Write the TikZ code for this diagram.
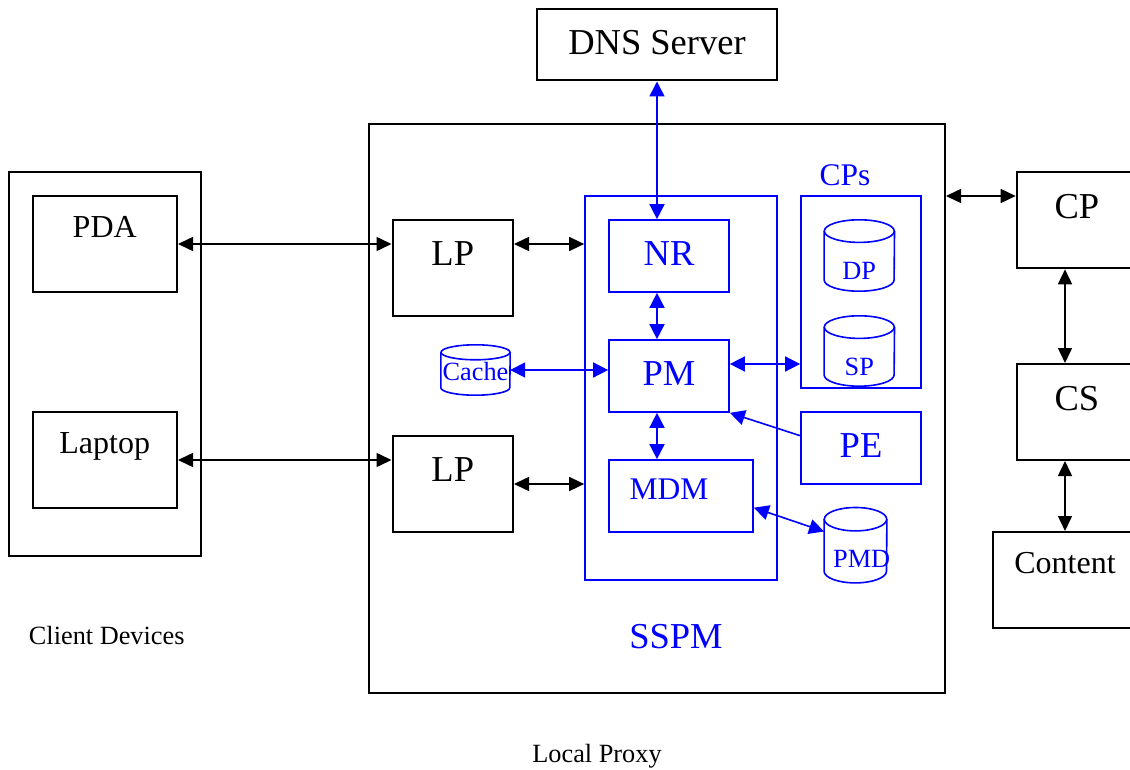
\documentclass[tikz,border=0pt]{standalone}
\usepackage{fontspec}
\setmainfont{Liberation Serif}
\usetikzlibrary{arrows.meta,calc}
\definecolor{sblue}{RGB}{0,0,255}
\newcommand\szL{\fontsize{36.5}{40}\selectfont}
\newcommand\szM{\fontsize{32}{36}\selectfont}
\newcommand\szMD{\fontsize{31.5}{36}\selectfont}
\newcommand\szS{\fontsize{26.3}{30}\selectfont}
% cylinder outline drawn round a named node: name, x radius, y radius
\newcommand\drawdrum[3]{%
  \draw[sblue, line width=1.6pt] ([yshift=-#3]#1.north west) -- ([yshift=#3]#1.south west)
    arc[start angle=180, end angle=360, x radius=#2, y radius=#3] -- ([yshift=-#3]#1.north east);
  \draw[sblue, line width=1.6pt] ([yshift=-#3]#1.north) ellipse [x radius=#2, y radius=#3];
}
\tikzset{
  blk/.style={draw=black, line width=2pt, inner sep=0pt},
  blu/.style={draw=sblue, line width=1.7pt, inner sep=0pt, text=sblue},
  drum/.style={draw=none, inner sep=0pt, text=sblue, font=\szS},
  barr/.style={draw=black, line width=1.5pt, <->, >={Triangle[length=15pt,width=14pt]}},
  uarr/.style={draw=sblue, line width=1.6pt, <->, >={Triangle[length=15pt,width=15pt]}},
  uone/.style={draw=sblue, line width=1.6pt, ->, >={Triangle[length=15pt,width=15pt]}},
  captxt/.style={anchor=base, inner sep=0pt},
}
\begin{document}
\begin{tikzpicture}[x=1pt, y=-1pt]
\useasboundingbox (0,0) rectangle (1130,770);
\clip (0,0) rectangle (1130,770);

% outer frames
\node[blk, minimum width=576.5pt, minimum height=568.5pt] (proxy) at (656.75,408.25) {};
\node[blk, minimum width=192.5pt, minimum height=383.5pt] (clients) at (104.75,364.25) {};
\node[blk, font=\szL, minimum width=240pt, text height=46pt, text depth=25.5pt] (dns) at (657,44.75) {DNS Server};

% client devices
\node[blk, font=\szM, minimum width=144.5pt, text height=41pt, text depth=55pt] (pda) at (104.75,244) {PDA};
\node[blk, font=\szM, minimum width=144.5pt, text height=41pt, text depth=55pt] (laptop) at (104.75,460) {Laptop};

% local proxy parts
\node[blk, font=\szL, minimum width=120.5pt, text height=45.7pt, text depth=50.3pt] (lp1) at (452.75,268) {LP};
\node[blk, font=\szL, minimum width=120.5pt, text height=45.7pt, text depth=50.3pt] (lp2) at (452.75,484) {LP};
\node[blu, minimum width=192pt, minimum height=384pt] (sspm) at (681,388) {};
\node[blu, font=\szL, minimum width=120pt, text height=45.7pt, text depth=26.3pt] (nr) at (669,256) {NR};
\node[blu, font=\szL, minimum width=120pt, text height=45pt, text depth=27pt] (pm) at (669,376) {PM};
\node[blu, minimum width=144pt, minimum height=72pt,
      label={[font=\szMD, text=sblue, anchor=base, inner sep=0pt, xshift=-12pt, yshift=-40.7pt]north:MDM}] (mdm) at (681,496) {};
\node[blu, minimum width=120pt, minimum height=192pt] (cps) at (861,292) {};
\node[blu, font=\szL, minimum width=120pt, text height=45.3pt, text depth=26.7pt] (pe) at (861,448) {PE};

% stores
\node[drum, minimum width=70pt, text height=59.3pt, text depth=11.7pt] (dp) at (859.3,255.5) {DP};
\node[drum, minimum width=70pt, text height=59pt, text depth=11pt] (sp) at (859.3,351) {SP};
\node[drum, minimum width=69pt, text height=35pt, text depth=15pt] (cache) at (475.5,370) {Cache};
\node[drum, minimum width=62.4pt, minimum height=75pt,
      label={[font=\szS, text=sblue, anchor=base, inner sep=0pt, xshift=6.2pt, yshift=-60pt]north:PMD}] (pmd) at (855.5,545.2) {};
\drawdrum{dp}{35pt}{11.3pt}
\drawdrum{sp}{35pt}{11.3pt}
\drawdrum{cache}{34.5pt}{7.5pt}
\drawdrum{pmd}{31.2pt}{11.7pt}

% content side
\node[blk, font=\szL, minimum width=120.5pt, text height=46.6pt, text depth=50pt] (cp) at (1076.95,220) {CP};
\node[blk, font=\szL, minimum width=120.5pt, text height=46pt, text depth=50pt] (cs) at (1076.95,412) {CS};
\node[blk, font=\szM, minimum width=144.6pt, text height=41.3pt, text depth=55pt] (content) at (1065,580.15) {Content};

% captions
\node[captxt, font=\szS] (cdcap) at (106.7,644.5) {Client Devices};
\node[captxt, font=\szS] (lpcap) at (597,762.5) {Local Proxy};
\node[captxt, font=\szL, text=sblue] (sspmcap) at (676,648) {SSPM};
\node[captxt, font=\szMD, text=sblue] (cpscap) at (845,186) {CPs};

% black connectors
\draw[barr] (pda.east) -- (pda.east -| lp1.west);
\draw[barr] (laptop.east) -- (laptop.east -| lp2.west);
\draw[barr] (pda.east -| lp1.east) -- (pda.east -| sspm.west);
\draw[barr] (lp2.east) -- (lp2.east -| sspm.west);
\draw[barr] ([yshift=24pt]cp.west) -- ([yshift=24pt]cp.west -| proxy.east);
\draw[barr] (content.north |- cp.south) -- (content.north |- cs.north);
\draw[barr] (content.north |- cs.south) -- (content.north);

% blue connectors
\draw[uarr] (dns.south) -- (dns.south |- nr.north);
\draw[uarr] (dns.south |- nr.south) -- (dns.south |- pm.north);
\draw[uarr] (dns.south |- pm.south) -- (dns.south |- mdm.north);
\draw[uarr] (cache.east) -- (cache.east -| pm.west);
\draw[uarr] ([yshift=12pt]pm.east) -- ([yshift=12pt]pm.east -| cps.west);
\draw[uone] ([yshift=12.3pt]pe.west) -- (pm.south east);
\draw[uarr] ([yshift=-11.7pt]mdm.east) -- ([yshift=13.7pt]pmd.west);
\end{tikzpicture}
\end{document}
